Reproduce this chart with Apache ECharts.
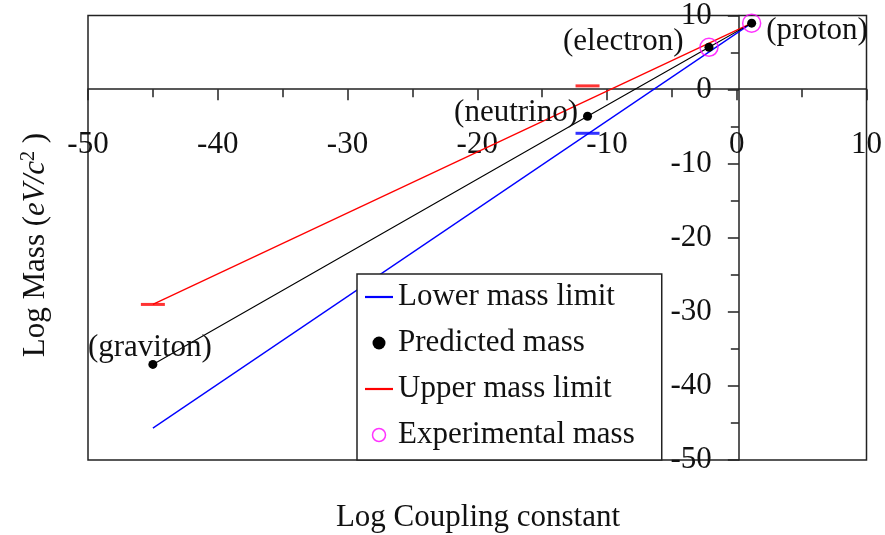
<!DOCTYPE html>
<html><head><meta charset="utf-8">
<script src="https://cdn.jsdelivr.net/npm/echarts@6/dist/echarts.min.js"></script>
<style>html,body{margin:0;padding:0;background:#fff}#c{width:885px;height:535px}</style>
</head><body><div id="c"></div>
<script>
// ---- data ----
const particleNames = ['(graviton)', '(neutrino)', '(electron)', '(proton)'];
const predictedX = [-45, -11.5, -2.14, 1.15];
const predictedY = [-37.1, -3.6, 5.71, 8.97];
const lowerLineX = [-45, 1.15];
const lowerLineY = [-45.7, 8.97];
const lowerMarkX = [-11.5];
const lowerMarkY = [-5.9];
const upperLineX = [-45, 1.15];
const upperLineY = [-29, 8.97];
const upperMarkX = [-45, -11.5];
const upperMarkY = [-29, 0.5];
const experimentalX = [-2.14, 1.15];
const experimentalY = [5.71, 8.97];
const xTickValues = [-50, -40, -30, -20, -10, 0, 10];
const yTickValues = [-50, -40, -30, -20, -10, 0, 10];
const seriesNames = ['Lower mass limit', 'Predicted mass', 'Upper mass limit', 'Experimental mass'];

// ---- styling / layout (kept separate from data) ----
const FONT = "'Liberation Serif', 'Times New Roman', serif";
const TXT = '#111';
const W = 885, H = 535;
const G = { left: 88, right: 16, top: 15, bottom: 75 };
const xMin = xTickValues[0], xMax = xTickValues[xTickValues.length - 1];
const yMin = yTickValues[0], yMax = yTickValues[yTickValues.length - 1];
const gridW = W - G.left - G.right, gridH = H - G.top - G.bottom;
// place the axes where the other axis is zero (like a crossing axis)
const yAxisOffset = -((0 - xMin) / (xMax - xMin)) * gridW;
const xAxisOffset = -((0 - yMin) / (yMax - yMin)) * gridH;

const labelLayout = [
  { position: 'top', offset: [-3, 8] },
  { position: 'left', offset: [0, -3] },
  { position: 'left', offset: [-16, -5] },
  { position: 'right', offset: [5, 8] }
];
const zip = (xs, ys) => xs.map((x, i) => [x, ys[i]]);

const predictedData = zip(predictedX, predictedY).map((v, i) => ({
  value: v,
  label: Object.assign({ show: true, formatter: particleNames[i], fontSize: 31, fontFamily: FONT, color: TXT, distance: 5 }, labelLayout[i])
}));

const chart = echarts.init(document.getElementById('c'), null, { renderer: 'canvas' });
const axisCommon = {
  type: 'value', interval: 10,
  axisLine: { show: true, onZero: false, lineStyle: { color: '#222', width: 1.5 } },
  axisTick: { show: true, length: 11, lineStyle: { color: '#222', width: 1.5 } },
  minorTick: { show: true, splitNumber: 2, length: 8, lineStyle: { color: '#222', width: 1.5 } },
  splitLine: { show: false },
  axisLabel: { fontSize: 31, fontFamily: FONT, color: TXT }
};
const lineIcon = 'path://M0,0 L28,0 L28,2.2 L0,2.2 Z';
chart.setOption({
  animation: false,
  backgroundColor: '#fff',
  grid: Object.assign({ show: true, borderColor: '#222', borderWidth: 1.5, backgroundColor: 'transparent' }, G),
  xAxis: Object.assign({}, axisCommon, { min: xMin, max: xMax, position: 'bottom', offset: xAxisOffset, axisLabel: Object.assign({}, axisCommon.axisLabel, { margin: 40 }) }),
  yAxis: Object.assign({}, axisCommon, { min: yMin, max: yMax, position: 'left', offset: yAxisOffset, axisLabel: Object.assign({}, axisCommon.axisLabel, { margin: 27 }) }),
  legend: {
    orient: 'vertical', left: 357, top: 274,
    padding: [6, 27, 8, 8], itemGap: 12, itemWidth: 28, itemHeight: 13,
    backgroundColor: '#fff', borderColor: '#222', borderWidth: 1.5, borderRadius: 0,
    textStyle: { fontSize: 31, fontFamily: FONT, color: TXT, lineHeight: 34 },
    data: [
      { name: seriesNames[0], icon: lineIcon, itemStyle: { color: '#0000ff' } },
      { name: seriesNames[1], icon: 'circle', itemStyle: { color: '#000' } },
      { name: seriesNames[2], icon: lineIcon, itemStyle: { color: '#ff0000' } },
      { name: seriesNames[3], icon: 'circle', itemStyle: { color: 'rgba(0,0,0,0)', borderColor: '#ff00ff', borderWidth: 1.5 } }
    ]
  },
  series: [
    { name: seriesNames[0], type: 'line', data: zip(lowerLineX, lowerLineY), symbol: 'none', lineStyle: { color: '#0000ff', width: 1.3 }, itemStyle: { color: '#0000ff' }, z: 2 },
    { name: seriesNames[0], type: 'scatter', data: zip(lowerMarkX, lowerMarkY), symbol: 'rect', symbolSize: [24, 3], itemStyle: { color: '#0000ff' }, z: 2 },
    { name: seriesNames[2], type: 'line', data: zip(upperLineX, upperLineY), symbol: 'none', lineStyle: { color: '#ff0000', width: 1.3 }, itemStyle: { color: '#ff0000' }, z: 2 },
    { name: seriesNames[2], type: 'scatter', data: zip(upperMarkX, upperMarkY), symbol: 'rect', symbolSize: [24, 3], itemStyle: { color: '#ff0000' }, z: 2 },
    { name: seriesNames[1], type: 'line', data: predictedData, symbol: 'circle', symbolSize: 9, showAllSymbol: true, lineStyle: { color: '#000', width: 1.1 }, itemStyle: { color: '#000' }, z: 3 },
    { name: seriesNames[3], type: 'scatter', data: zip(experimentalX, experimentalY), symbol: 'circle', symbolSize: 18, itemStyle: { color: 'rgba(0,0,0,0)', borderColor: '#ff00ff', borderWidth: 1.5 }, z: 4 }
  ],
  graphic: [
    { type: 'text', x: 478, y: 518, style: { text: 'Log Coupling constant', fontSize: 31, fontFamily: FONT, fill: TXT, align: 'center', verticalAlign: 'middle' } },
    { type: 'text', x: 36, y: 245, rotation: Math.PI / 2,
      style: { text: 'Log Mass ({i|eV/c}{s|2}{n| )}', fontSize: 31, fontFamily: FONT, fill: TXT, align: 'center', verticalAlign: 'middle',
        rich: { i: { fontStyle: 'italic', fontSize: 31, fontFamily: FONT, fill: TXT }, s: { fontSize: 20, fontFamily: FONT, fill: TXT, verticalAlign: 'top', padding: [0, 0, 14, 0] }, n: { fontSize: 31, fontFamily: FONT, fill: TXT } } } }
  ]
});
</script></body></html>
